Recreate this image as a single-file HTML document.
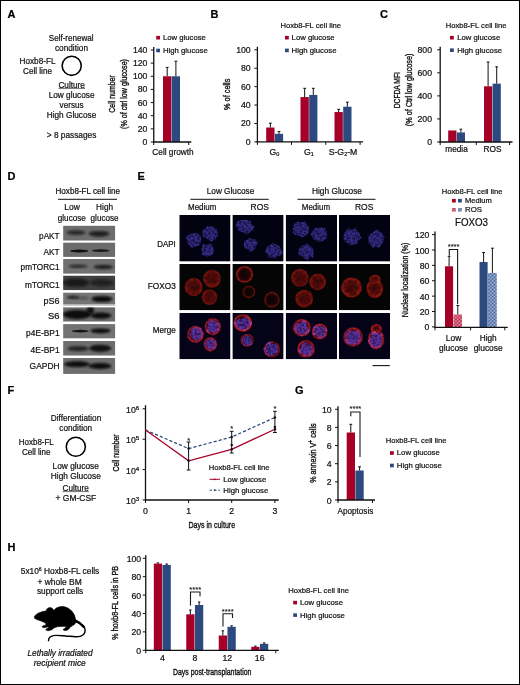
<!DOCTYPE html>
<html lang="en"><head><meta charset="utf-8"><title>Figure</title>
<style>html,body{margin:0;padding:0;background:#fff}body{width:520px;height:685px;overflow:hidden}svg{display:block}text{font-family:"Liberation Sans", Arial, Helvetica, sans-serif;fill:#111;stroke:#111;stroke-width:0.22px}</style></head><body>
<svg width="520" height="685" viewBox="0 0 520 685">
<defs>
<filter id="b1" x="-30%" y="-30%" width="160%" height="160%"><feGaussianBlur stdDeviation="0.9"/></filter>
<filter id="b2" x="-30%" y="-30%" width="160%" height="160%"><feGaussianBlur stdDeviation="1.6"/></filter>
<filter id="b05" x="-30%" y="-30%" width="160%" height="160%"><feGaussianBlur stdDeviation="0.5"/></filter>
<pattern id="hr" width="1.4" height="1.4" patternUnits="userSpaceOnUse"><rect width="1.4" height="1.4" fill="#f3b6c4"/><rect width="0.7" height="0.7" fill="#a60028"/><rect x="0.7" y="0.7" width="0.7" height="0.7" fill="#a60028"/></pattern>
<pattern id="hb" width="1.4" height="1.4" patternUnits="userSpaceOnUse"><rect width="1.4" height="1.4" fill="#bccff2"/><rect width="0.7" height="0.7" fill="#2c4a80"/><rect x="0.7" y="0.7" width="0.7" height="0.7" fill="#2c4a80"/></pattern>
</defs>
<rect x="0" y="0" width="520" height="685" fill="#fff"/>
<g id="panelA">
<text x="7.50" y="18.00" font-size="11" font-weight="bold" style="fill:#000;stroke:#000">A</text>
<text x="71.20" y="41.20" font-size="8.7" text-anchor="middle" textLength="44.80" lengthAdjust="spacingAndGlyphs">Self-renewal</text>
<text x="71.50" y="51.40" font-size="8.7" text-anchor="middle" textLength="33.00" lengthAdjust="spacingAndGlyphs">condition</text>
<text x="19.50" y="64.00" font-size="8.7" textLength="36.00" lengthAdjust="spacingAndGlyphs">Hoxb8-FL</text>
<text x="23.00" y="74.20" font-size="8.7" textLength="29.00" lengthAdjust="spacingAndGlyphs">Cell line</text>
<circle cx="71.7" cy="65.8" r="9.55" fill="none" stroke="#000" stroke-width="1.55"/>
<text x="71.70" y="87.60" font-size="8.7" text-anchor="middle" textLength="26.50" lengthAdjust="spacingAndGlyphs">Culture</text>
<line x1="58.40" y1="88.40" x2="85.00" y2="88.40" stroke="#111" stroke-width="0.6" />
<text x="71.60" y="97.60" font-size="8.7" text-anchor="middle" textLength="45.80" lengthAdjust="spacingAndGlyphs">Low glucose</text>
<text x="71.60" y="107.60" font-size="8.7" text-anchor="middle" textLength="24.00" lengthAdjust="spacingAndGlyphs">versus</text>
<text x="71.50" y="117.70" font-size="8.7" text-anchor="middle" textLength="49.50" lengthAdjust="spacingAndGlyphs">High Glucose</text>
<text x="46.80" y="138.40" font-size="8.7" textLength="49.50" lengthAdjust="spacingAndGlyphs">&gt; 8 passages</text>
<text transform="translate(115.20 94.00) rotate(-90)" font-size="9.3" text-anchor="middle" textLength="37.50" lengthAdjust="spacingAndGlyphs" style="stroke-width:0.36px">Cell number</text>
<text transform="translate(127.30 94.00) rotate(-90)" font-size="9.3" text-anchor="middle" textLength="70.00" lengthAdjust="spacingAndGlyphs" style="stroke-width:0.36px">(% of ctrl low glucose)</text>
<line x1="153.75" y1="46.90" x2="153.75" y2="142.65" stroke="#111" stroke-width="1.3" />
<line x1="150.75" y1="142.00" x2="153.75" y2="142.00" stroke="#111" stroke-width="1.0" />
<text x="147.40" y="145.00" font-size="8.7" text-anchor="end">0</text>
<line x1="150.75" y1="128.86" x2="153.75" y2="128.86" stroke="#111" stroke-width="1.0" />
<text x="147.40" y="131.86" font-size="8.7" text-anchor="end">20</text>
<line x1="150.75" y1="115.71" x2="153.75" y2="115.71" stroke="#111" stroke-width="1.0" />
<text x="147.40" y="118.71" font-size="8.7" text-anchor="end">40</text>
<line x1="150.75" y1="102.57" x2="153.75" y2="102.57" stroke="#111" stroke-width="1.0" />
<text x="147.40" y="105.57" font-size="8.7" text-anchor="end">60</text>
<line x1="150.75" y1="89.43" x2="153.75" y2="89.43" stroke="#111" stroke-width="1.0" />
<text x="147.40" y="92.43" font-size="8.7" text-anchor="end">80</text>
<line x1="150.75" y1="76.29" x2="153.75" y2="76.29" stroke="#111" stroke-width="1.0" />
<text x="147.40" y="79.29" font-size="8.7" text-anchor="end">100</text>
<line x1="150.75" y1="63.14" x2="153.75" y2="63.14" stroke="#111" stroke-width="1.0" />
<text x="147.40" y="66.14" font-size="8.7" text-anchor="end">120</text>
<line x1="150.75" y1="50.00" x2="153.75" y2="50.00" stroke="#111" stroke-width="1.0" />
<text x="147.40" y="53.00" font-size="8.7" text-anchor="end">140</text>
<rect x="163.00" y="76.29" width="8.35" height="65.71" fill="#a60028" />
<rect x="171.70" y="76.29" width="8.30" height="65.71" fill="#2c4a80" />
<line x1="167.20" y1="76.29" x2="167.20" y2="67.40" stroke="#111" stroke-width="1.0" />
<line x1="165.80" y1="67.40" x2="168.60" y2="67.40" stroke="#111" stroke-width="1.0" />
<line x1="175.90" y1="76.29" x2="175.90" y2="61.20" stroke="#111" stroke-width="1.0" />
<line x1="174.50" y1="61.20" x2="177.30" y2="61.20" stroke="#111" stroke-width="1.0" />
<text x="173.00" y="155.20" font-size="8.7" text-anchor="middle" textLength="41.30" lengthAdjust="spacingAndGlyphs">Cell growth</text>
<rect x="156.20" y="35.90" width="3.80" height="3.60" fill="#a60028" />
<text x="162.90" y="40.10" font-size="8.0" textLength="43.00" lengthAdjust="spacingAndGlyphs">Low glucose</text>
<rect x="156.20" y="48.70" width="3.80" height="3.60" fill="#2c4a80" />
<text x="162.90" y="52.80" font-size="8.0" textLength="44.90" lengthAdjust="spacingAndGlyphs">High glucose</text>
<line x1="153.10" y1="142.00" x2="191.30" y2="142.00" stroke="#111" stroke-width="1.3" />
<line x1="153.75" y1="142.00" x2="153.75" y2="145.00" stroke="#111" stroke-width="1.0" />
<line x1="188.70" y1="142.00" x2="188.70" y2="145.00" stroke="#111" stroke-width="1.0" />
</g>
<g id="panelB">
<text x="210.50" y="18.00" font-size="11" font-weight="bold" style="fill:#000;stroke:#000">B</text>
<text transform="translate(230.30 94.30) rotate(-90)" font-size="9.3" text-anchor="middle" textLength="31.30" lengthAdjust="spacingAndGlyphs" style="stroke-width:0.36px">% of cells</text>
<line x1="257.40" y1="46.70" x2="257.40" y2="142.55" stroke="#111" stroke-width="1.3" />
<line x1="254.40" y1="141.90" x2="257.40" y2="141.90" stroke="#111" stroke-width="1.0" />
<text x="250.70" y="144.90" font-size="8.7" text-anchor="end">0</text>
<line x1="254.40" y1="123.48" x2="257.40" y2="123.48" stroke="#111" stroke-width="1.0" />
<text x="250.70" y="126.48" font-size="8.7" text-anchor="end">20</text>
<line x1="254.40" y1="105.06" x2="257.40" y2="105.06" stroke="#111" stroke-width="1.0" />
<text x="250.70" y="108.06" font-size="8.7" text-anchor="end">40</text>
<line x1="254.40" y1="86.64" x2="257.40" y2="86.64" stroke="#111" stroke-width="1.0" />
<text x="250.70" y="89.64" font-size="8.7" text-anchor="end">60</text>
<line x1="254.40" y1="68.22" x2="257.40" y2="68.22" stroke="#111" stroke-width="1.0" />
<text x="250.70" y="71.22" font-size="8.7" text-anchor="end">80</text>
<line x1="254.40" y1="49.80" x2="257.40" y2="49.80" stroke="#111" stroke-width="1.0" />
<text x="250.70" y="52.80" font-size="8.7" text-anchor="end">100</text>
<rect x="266.20" y="127.53" width="8.30" height="14.37" fill="#a60028" />
<rect x="274.90" y="133.80" width="8.20" height="8.10" fill="#2c4a80" />
<line x1="270.35" y1="127.53" x2="270.35" y2="123.20" stroke="#111" stroke-width="1.0" />
<line x1="268.95" y1="123.20" x2="271.75" y2="123.20" stroke="#111" stroke-width="1.0" />
<line x1="279.00" y1="133.80" x2="279.00" y2="131.60" stroke="#111" stroke-width="1.0" />
<line x1="277.60" y1="131.60" x2="280.40" y2="131.60" stroke="#111" stroke-width="1.0" />
<rect x="300.50" y="97.05" width="8.30" height="44.85" fill="#a60028" />
<rect x="309.20" y="94.93" width="8.20" height="46.97" fill="#2c4a80" />
<line x1="304.65" y1="97.05" x2="304.65" y2="88.30" stroke="#111" stroke-width="1.0" />
<line x1="303.25" y1="88.30" x2="306.05" y2="88.30" stroke="#111" stroke-width="1.0" />
<line x1="313.30" y1="94.93" x2="313.30" y2="88.30" stroke="#111" stroke-width="1.0" />
<line x1="311.90" y1="88.30" x2="314.70" y2="88.30" stroke="#111" stroke-width="1.0" />
<rect x="334.50" y="112.06" width="8.30" height="29.84" fill="#a60028" />
<rect x="343.20" y="106.72" width="8.30" height="35.18" fill="#2c4a80" />
<line x1="338.65" y1="112.06" x2="338.65" y2="109.30" stroke="#111" stroke-width="1.0" />
<line x1="337.25" y1="109.30" x2="340.05" y2="109.30" stroke="#111" stroke-width="1.0" />
<line x1="347.35" y1="106.72" x2="347.35" y2="102.20" stroke="#111" stroke-width="1.0" />
<line x1="345.95" y1="102.20" x2="348.75" y2="102.20" stroke="#111" stroke-width="1.0" />
<text x="274.50" y="154.60" font-size="8.7" text-anchor="middle">G<tspan font-size="5.5" dy="1.6">0</tspan></text>
<text x="308.80" y="154.60" font-size="8.7" text-anchor="middle">G<tspan font-size="5.5" dy="1.6">1</tspan></text>
<text x="343.00" y="154.60" font-size="8.7" text-anchor="middle">S-G<tspan font-size="5.5" dy="1.6">2</tspan><tspan dy="-1.6">-M</tspan></text>
<text x="280.40" y="27.90" font-size="8.0" textLength="60.70" lengthAdjust="spacingAndGlyphs">Hoxb8-FL cell line</text>
<rect x="285.00" y="35.90" width="3.80" height="3.60" fill="#a60028" />
<text x="291.60" y="40.10" font-size="8.0" textLength="43.00" lengthAdjust="spacingAndGlyphs">Low glucose</text>
<rect x="285.00" y="48.60" width="3.80" height="3.60" fill="#2c4a80" />
<text x="291.60" y="52.60" font-size="8.0" textLength="44.90" lengthAdjust="spacingAndGlyphs">High glucose</text>
<line x1="256.75" y1="141.90" x2="363.10" y2="141.90" stroke="#111" stroke-width="1.3" />
<line x1="257.40" y1="141.90" x2="257.40" y2="144.90" stroke="#111" stroke-width="1.0" />
<line x1="291.50" y1="141.90" x2="291.50" y2="144.90" stroke="#111" stroke-width="1.0" />
<line x1="325.80" y1="141.90" x2="325.80" y2="144.90" stroke="#111" stroke-width="1.0" />
<line x1="360.10" y1="141.90" x2="360.10" y2="144.90" stroke="#111" stroke-width="1.0" />
</g>
<g id="panelC">
<text x="380.00" y="18.00" font-size="11" font-weight="bold" style="fill:#000;stroke:#000">C</text>
<text transform="translate(400.10 90.20) rotate(-90)" font-size="9.3" text-anchor="middle" textLength="36.20" lengthAdjust="spacingAndGlyphs" style="stroke-width:0.36px">DCFDA MFI</text>
<text transform="translate(411.70 89.90) rotate(-90)" font-size="9.3" text-anchor="middle" textLength="72.60" lengthAdjust="spacingAndGlyphs" style="stroke-width:0.36px">(% of Ctrl low glucose)</text>
<line x1="440.20" y1="46.65" x2="440.20" y2="142.65" stroke="#111" stroke-width="1.3" />
<line x1="437.20" y1="142.00" x2="440.20" y2="142.00" stroke="#111" stroke-width="1.0" />
<text x="432.00" y="145.00" font-size="8.7" text-anchor="end">0</text>
<line x1="437.20" y1="118.94" x2="440.20" y2="118.94" stroke="#111" stroke-width="1.0" />
<text x="432.00" y="121.94" font-size="8.7" text-anchor="end">200</text>
<line x1="437.20" y1="95.88" x2="440.20" y2="95.88" stroke="#111" stroke-width="1.0" />
<text x="432.00" y="98.88" font-size="8.7" text-anchor="end">400</text>
<line x1="437.20" y1="72.81" x2="440.20" y2="72.81" stroke="#111" stroke-width="1.0" />
<text x="432.00" y="75.81" font-size="8.7" text-anchor="end">600</text>
<line x1="437.20" y1="49.75" x2="440.20" y2="49.75" stroke="#111" stroke-width="1.0" />
<text x="432.00" y="52.75" font-size="8.7" text-anchor="end">800</text>
<rect x="448.20" y="130.47" width="8.25" height="11.53" fill="#a60028" />
<rect x="456.80" y="132.43" width="8.20" height="9.57" fill="#2c4a80" />
<line x1="460.90" y1="132.43" x2="460.90" y2="129.20" stroke="#111" stroke-width="1.0" />
<line x1="459.50" y1="129.20" x2="462.30" y2="129.20" stroke="#111" stroke-width="1.0" />
<rect x="484.00" y="86.30" width="8.20" height="55.70" fill="#a60028" />
<rect x="492.60" y="83.65" width="8.20" height="58.35" fill="#2c4a80" />
<line x1="488.10" y1="86.30" x2="488.10" y2="62.00" stroke="#111" stroke-width="1.0" />
<line x1="486.70" y1="62.00" x2="489.50" y2="62.00" stroke="#111" stroke-width="1.0" />
<line x1="496.70" y1="83.65" x2="496.70" y2="66.80" stroke="#111" stroke-width="1.0" />
<line x1="495.30" y1="66.80" x2="498.10" y2="66.80" stroke="#111" stroke-width="1.0" />
<text x="456.50" y="152.20" font-size="8.7" text-anchor="middle" textLength="22.50" lengthAdjust="spacingAndGlyphs">media</text>
<text x="492.50" y="152.20" font-size="8.7" text-anchor="middle" textLength="18.00" lengthAdjust="spacingAndGlyphs">ROS</text>
<text x="445.80" y="27.90" font-size="8.0" textLength="60.70" lengthAdjust="spacingAndGlyphs">Hoxb8-FL cell line</text>
<rect x="450.00" y="35.90" width="3.80" height="3.60" fill="#a60028" />
<text x="457.20" y="40.10" font-size="8.0" textLength="43.00" lengthAdjust="spacingAndGlyphs">Low glucose</text>
<rect x="450.00" y="48.40" width="3.80" height="3.60" fill="#2c4a80" />
<text x="457.20" y="52.50" font-size="8.0" textLength="44.90" lengthAdjust="spacingAndGlyphs">High glucose</text>
<line x1="439.55" y1="142.00" x2="512.50" y2="142.00" stroke="#111" stroke-width="1.3" />
<line x1="440.20" y1="142.00" x2="440.20" y2="145.00" stroke="#111" stroke-width="1.0" />
<line x1="476.30" y1="142.00" x2="476.30" y2="145.00" stroke="#111" stroke-width="1.0" />
<line x1="509.60" y1="142.00" x2="509.60" y2="145.00" stroke="#111" stroke-width="1.0" />
</g>
<g id="panelD">
<text x="7.50" y="180.00" font-size="11" font-weight="bold" style="fill:#000;stroke:#000">D</text>
<text x="55.50" y="193.60" font-size="8.7" textLength="64.50" lengthAdjust="spacingAndGlyphs">Hoxb8-FL cell line</text>
<line x1="58" y1="199.3" x2="117" y2="199.3" stroke="#000" stroke-width="0.95"/>
<text x="72.00" y="210.00" font-size="8.7" text-anchor="middle" textLength="15.50" lengthAdjust="spacingAndGlyphs">Low</text>
<text x="104.60" y="210.00" font-size="8.7" text-anchor="middle" textLength="17.00" lengthAdjust="spacingAndGlyphs">High</text>
<text x="71.80" y="220.50" font-size="8.7" text-anchor="middle" textLength="28.00" lengthAdjust="spacingAndGlyphs">glucose</text>
<text x="104.60" y="220.50" font-size="8.7" text-anchor="middle" textLength="28.00" lengthAdjust="spacingAndGlyphs">glucose</text>
<text x="59.60" y="239.20" font-size="8.7" text-anchor="end" textLength="20.50" lengthAdjust="spacingAndGlyphs">pAKT</text>
<clipPath id="cb0"><rect x="63.1" y="225.6" width="52.20" height="15.10"/></clipPath>
<g clip-path="url(#cb0)"><rect x="63.1" y="225.6" width="52.20" height="15.10" fill="#6d6d6d"/>
<ellipse cx="76" cy="232.6" rx="9.5" ry="2.3" fill="#0a0a0a" opacity="0.7" filter="url(#b1)"/>
<ellipse cx="99" cy="233.8" rx="10.5" ry="2.9" fill="#0a0a0a" opacity="0.8" filter="url(#b1)"/>
</g>
<text x="59.60" y="254.60" font-size="8.7" text-anchor="end" textLength="16.00" lengthAdjust="spacingAndGlyphs">AKT</text>
<clipPath id="cb1"><rect x="63.1" y="242.4" width="52.20" height="14.50"/></clipPath>
<g clip-path="url(#cb1)"><rect x="63.1" y="242.4" width="52.20" height="14.50" fill="#6b6b6b"/>
<ellipse cx="79.3" cy="251.0" rx="9.2" ry="1.4500000000000002" fill="#0a0a0a" opacity="0.95" filter="url(#b05)"/>
<ellipse cx="100.7" cy="250.6" rx="9.0" ry="1.35" fill="#0a0a0a" opacity="0.85" filter="url(#b05)"/>
</g>
<text x="59.60" y="270.20" font-size="8.7" text-anchor="end" textLength="39.00" lengthAdjust="spacingAndGlyphs">pmTORC1</text>
<clipPath id="cb2"><rect x="63.1" y="259.0" width="52.20" height="14.80"/></clipPath>
<g clip-path="url(#cb2)"><rect x="63.1" y="259.0" width="52.20" height="14.80" fill="#707070"/>
<ellipse cx="78" cy="266.2" rx="9.5" ry="1.7" fill="#0a0a0a" opacity="0.68" filter="url(#b1)"/>
<ellipse cx="103.5" cy="267.0" rx="10" ry="2.2" fill="#0a0a0a" opacity="0.8" filter="url(#b1)"/>
</g>
<text x="59.60" y="287.50" font-size="8.7" text-anchor="end" textLength="34.50" lengthAdjust="spacingAndGlyphs">mTORC1</text>
<clipPath id="cb3"><rect x="63.1" y="275.5" width="52.20" height="14.80"/></clipPath>
<g clip-path="url(#cb3)"><rect x="63.1" y="275.5" width="52.20" height="14.80" fill="#404040"/>
<ellipse cx="76" cy="282.8" rx="13" ry="4.0" fill="#0a0a0a" opacity="0.75" filter="url(#b1)"/>
<ellipse cx="102" cy="282.8" rx="12" ry="3.6" fill="#0a0a0a" opacity="0.6" filter="url(#b1)"/>
</g>
<text x="59.60" y="304.20" font-size="8.7" text-anchor="end" textLength="16.00" lengthAdjust="spacingAndGlyphs">pS6</text>
<clipPath id="cb4"><rect x="63.1" y="292.4" width="52.20" height="12.40"/></clipPath>
<g clip-path="url(#cb4)"><rect x="63.1" y="292.4" width="52.20" height="12.40" fill="#757575"/>
<ellipse cx="73" cy="297.4" rx="6.0" ry="1.6" fill="#0a0a0a" opacity="0.85" filter="url(#b1)"/>
<ellipse cx="83" cy="298.0" rx="6" ry="1.5" fill="#0a0a0a" opacity="0.35" filter="url(#b1)"/>
<ellipse cx="102" cy="299.0" rx="10.5" ry="3.1" fill="#0a0a0a" opacity="1.0" filter="url(#b1)"/>
</g>
<text x="59.60" y="318.80" font-size="8.7" text-anchor="end" textLength="11.50" lengthAdjust="spacingAndGlyphs">S6</text>
<clipPath id="cb5"><rect x="63.1" y="307.2" width="52.20" height="14.50"/></clipPath>
<g clip-path="url(#cb5)"><rect x="63.1" y="307.2" width="52.20" height="14.50" fill="#6b6b6b"/>
<ellipse cx="77" cy="314.6" rx="14" ry="4.6" fill="#0a0a0a" opacity="1.0" filter="url(#b1)"/>
<ellipse cx="90.3" cy="310.5" rx="3.8" ry="3.8" fill="#0a0a0a" opacity="0.95" filter="url(#b1)"/>
<ellipse cx="101" cy="315.6" rx="10.5" ry="3.1" fill="#0a0a0a" opacity="1.0" filter="url(#b1)"/>
</g>
<text x="59.60" y="336.30" font-size="8.7" text-anchor="end" textLength="33.50" lengthAdjust="spacingAndGlyphs">p4E-BP1</text>
<clipPath id="cb6"><rect x="63.1" y="324.1" width="52.20" height="14.50"/></clipPath>
<g clip-path="url(#cb6)"><rect x="63.1" y="324.1" width="52.20" height="14.50" fill="#727272"/>
<ellipse cx="80.3" cy="331.1" rx="8.6" ry="1.35" fill="#0a0a0a" opacity="0.9" filter="url(#b05)"/>
<ellipse cx="100.5" cy="330.8" rx="10" ry="2.4" fill="#0a0a0a" opacity="1.0" filter="url(#b1)"/>
</g>
<text x="59.60" y="353.00" font-size="8.7" text-anchor="end" textLength="29.00" lengthAdjust="spacingAndGlyphs">4E-BP1</text>
<clipPath id="cb7"><rect x="63.1" y="340.9" width="52.20" height="14.80"/></clipPath>
<g clip-path="url(#cb7)"><rect x="63.1" y="340.9" width="52.20" height="14.80" fill="#6e6e6e"/>
<ellipse cx="78" cy="348.6" rx="10.5" ry="2.7" fill="#0a0a0a" opacity="0.75" filter="url(#b1)"/>
<ellipse cx="100.2" cy="348.3" rx="11" ry="3.6" fill="#0a0a0a" opacity="0.95" filter="url(#b1)"/>
</g>
<text x="59.60" y="368.60" font-size="8.7" text-anchor="end" textLength="30.00" lengthAdjust="spacingAndGlyphs">GAPDH</text>
<clipPath id="cb8"><rect x="63.1" y="358.0" width="52.20" height="15.90"/></clipPath>
<g clip-path="url(#cb8)"><rect x="63.1" y="358.0" width="52.20" height="15.90" fill="#6d6d6d"/>
<ellipse cx="77" cy="364.2" rx="13" ry="2.9" fill="#0a0a0a" opacity="1.0" filter="url(#b1)"/>
<ellipse cx="100" cy="366.0" rx="11.5" ry="3.0" fill="#0a0a0a" opacity="1.0" filter="url(#b1)"/>
</g>
<rect x="63.1" y="304.8" width="52.20" height="1.3" fill="#cfcfcf"/>
</g>
<g id="panelE">
<text x="137.50" y="180.00" font-size="11" font-weight="bold" style="fill:#000;stroke:#000">E</text>
<text x="230.50" y="194.10" font-size="8.7" text-anchor="middle" textLength="47.50" lengthAdjust="spacingAndGlyphs">Low Glucose</text>
<line x1="190.4" y1="199.3" x2="268.7" y2="199.3" stroke="#000" stroke-width="0.95"/>
<text x="337.00" y="194.10" font-size="8.7" text-anchor="middle" textLength="50.00" lengthAdjust="spacingAndGlyphs">High Glucose</text>
<line x1="297.5" y1="199.3" x2="375.5" y2="199.3" stroke="#000" stroke-width="0.95"/>
<text x="188.00" y="209.60" font-size="8.7" textLength="28.30" lengthAdjust="spacingAndGlyphs">Medium</text>
<text x="250.60" y="209.60" font-size="8.7" textLength="18.30" lengthAdjust="spacingAndGlyphs">ROS</text>
<text x="301.80" y="209.60" font-size="8.7" textLength="28.30" lengthAdjust="spacingAndGlyphs">Medium</text>
<text x="355.00" y="209.60" font-size="8.7" textLength="18.30" lengthAdjust="spacingAndGlyphs">ROS</text>
<text x="175.80" y="246.80" font-size="8.7" text-anchor="end" textLength="18.50" lengthAdjust="spacingAndGlyphs">DAPI</text>
<text x="175.80" y="289.30" font-size="8.7" text-anchor="end" textLength="28.00" lengthAdjust="spacingAndGlyphs">FOXO3</text>
<text x="175.80" y="333.10" font-size="8.7" text-anchor="end" textLength="23.00" lengthAdjust="spacingAndGlyphs">Merge</text>
<radialGradient id="gf"><stop offset="0" stop-color="#6a0c0a" stop-opacity="0.85"/><stop offset="0.6" stop-color="#7c100c" stop-opacity="0.9"/><stop offset="0.9" stop-color="#a81810" stop-opacity="0.95"/><stop offset="1" stop-color="#a81810" stop-opacity="0.7"/></radialGradient>
<radialGradient id="gg"><stop offset="0" stop-color="#5a0a08" stop-opacity="0.85"/><stop offset="0.6" stop-color="#82120c" stop-opacity="0.9"/><stop offset="0.88" stop-color="#c01c12" stop-opacity="1"/><stop offset="1" stop-color="#b01810" stop-opacity="0.7"/></radialGradient>
<radialGradient id="gr"><stop offset="0" stop-color="#300404" stop-opacity="0.5"/><stop offset="0.62" stop-color="#400606" stop-opacity="0.6"/><stop offset="0.88" stop-color="#d82416" stop-opacity="1"/><stop offset="1" stop-color="#c01c12" stop-opacity="0.6"/></radialGradient>
<radialGradient id="gd"><stop offset="0" stop-color="#200303" stop-opacity="0.4"/><stop offset="0.6" stop-color="#300505" stop-opacity="0.5"/><stop offset="0.88" stop-color="#98160e" stop-opacity="0.95"/><stop offset="1" stop-color="#8a140c" stop-opacity="0.5"/></radialGradient>
<filter id="fn" x="-15%" y="-15%" width="130%" height="130%" color-interpolation-filters="sRGB"><feTurbulence type="fractalNoise" baseFrequency="0.2" numOctaves="1" seed="3" result="n0"/><feTurbulence type="fractalNoise" baseFrequency="0.45" numOctaves="2" seed="8" result="n"/><feDisplacementMap in="SourceGraphic" in2="n0" scale="5" xChannelSelector="R" yChannelSelector="G" result="d"/><feColorMatrix in="n" type="matrix" values="0 0 0 0 1  0 0 0 0 1  0 0 0 0 1  0 0 4.2 0 -1.5" result="m"/><feComposite in="d" in2="m" operator="in" result="t"/><feComposite in="d" in2="t" operator="arithmetic" k1="0" k2="0.45" k3="0.6" k4="0" result="x"/><feGaussianBlur in="x" stdDeviation="0.72"/></filter>
<filter id="fr" x="-15%" y="-15%" width="130%" height="130%" color-interpolation-filters="sRGB"><feTurbulence type="fractalNoise" baseFrequency="0.3" numOctaves="2" seed="11" result="n"/><feDisplacementMap in="SourceGraphic" in2="n" scale="1.6" xChannelSelector="R" yChannelSelector="G" result="d"/><feColorMatrix in="n" type="matrix" values="0 0 0 0 1  0 0 0 0 1  0 0 0 0 1  0 0 3.0 0 -0.9" result="m"/><feComposite in="d" in2="m" operator="in" result="t"/><feComposite in="d" in2="t" operator="arithmetic" k1="0" k2="0.6" k3="0.4" k4="0" result="x"/><feGaussianBlur in="x" stdDeviation="0.6"/></filter>
<radialGradient id="gm"><stop offset="0" stop-color="#500a10" stop-opacity="0.35"/><stop offset="0.62" stop-color="#6c101a" stop-opacity="0.5"/><stop offset="0.88" stop-color="#c01c22" stop-opacity="1"/><stop offset="1" stop-color="#b01820" stop-opacity="0.6"/></radialGradient>
<clipPath id="ct00"><rect x="179.3" y="214.9" width="51.2" height="46.7"/></clipPath>
<g clip-path="url(#ct00)"><rect x="179.3" y="214.9" width="51.2" height="46.7" fill="#030211"/>
<g filter="url(#fn)">
<ellipse cx="193.9" cy="240.0" rx="7.3999999999999995" ry="7.0" fill="#33287f"/>
<ellipse cx="210.4" cy="233.2" rx="7.3" ry="7.6" fill="#33287f"/>
<ellipse cx="207.7" cy="250.1" rx="6.3999999999999995" ry="6.7" fill="#33287f"/>
</g>
</g>
<clipPath id="ct01"><rect x="232.4" y="214.9" width="51.2" height="46.7"/></clipPath>
<g clip-path="url(#ct01)"><rect x="232.4" y="214.9" width="51.2" height="46.7" fill="#030211"/>
<g filter="url(#fn)">
<ellipse cx="244.5" cy="226.7" rx="8.9" ry="6.8999999999999995" fill="#33287f"/>
<ellipse cx="250.4" cy="244.3" rx="6.5" ry="6.5" fill="#33287f"/>
<ellipse cx="274.0" cy="251.4" rx="7.7" ry="7.3" fill="#33287f"/>
</g>
</g>
<clipPath id="ct02"><rect x="285.7" y="214.9" width="51.4" height="46.7"/></clipPath>
<g clip-path="url(#ct02)"><rect x="285.7" y="214.9" width="51.4" height="46.7" fill="#030211"/>
<g filter="url(#fn)">
<ellipse cx="301.0" cy="229.2" rx="8.3" ry="8.1" fill="#33287f"/>
<ellipse cx="319.7" cy="234.6" rx="7.7" ry="7.1" fill="#33287f"/>
<ellipse cx="306.1" cy="251.9" rx="7.7" ry="7.3" fill="#33287f"/>
</g>
</g>
<clipPath id="ct03"><rect x="339.0" y="214.9" width="51.0" height="46.7"/></clipPath>
<g clip-path="url(#ct03)"><rect x="339.0" y="214.9" width="51.0" height="46.7" fill="#030211"/>
<g filter="url(#fn)">
<ellipse cx="352.0" cy="236.8" rx="8.700000000000001" ry="8.5" fill="#33287f"/>
<ellipse cx="376.2" cy="239.0" rx="7.8999999999999995" ry="9.100000000000001" fill="#33287f"/>
</g>
</g>
<clipPath id="ct10"><rect x="179.3" y="263.9" width="51.2" height="46.4"/></clipPath>
<g clip-path="url(#ct10)"><rect x="179.3" y="263.9" width="51.2" height="46.4" fill="#060506"/>
<g filter="url(#fr)" opacity="0.8">
<ellipse cx="193.7" cy="286.9" rx="9.1" ry="9.2" fill="url(#gf)"/>
<ellipse cx="212.0" cy="278.7" rx="9.0" ry="9.1" fill="url(#gf)"/>
<ellipse cx="209.5" cy="297.1" rx="7.8" ry="7.9" fill="url(#gf)"/>
</g>
</g>
<clipPath id="ct11"><rect x="232.4" y="263.9" width="51.2" height="46.4"/></clipPath>
<g clip-path="url(#ct11)"><rect x="232.4" y="263.9" width="51.2" height="46.4" fill="#060506"/>
<g filter="url(#fr)" opacity="0.8">
<ellipse cx="244.5" cy="274.4" rx="8.8" ry="8.6" fill="url(#gr)"/>
<ellipse cx="248.8" cy="291.8" rx="6.6" ry="6.4" fill="url(#gd)"/>
<ellipse cx="271.9" cy="299.8" rx="8.0" ry="8.2" fill="url(#gd)"/>
</g>
</g>
<clipPath id="ct12"><rect x="285.7" y="263.9" width="51.4" height="46.4"/></clipPath>
<g clip-path="url(#ct12)"><rect x="285.7" y="263.9" width="51.4" height="46.4" fill="#060506"/>
<g filter="url(#fr)" opacity="0.8">
<ellipse cx="299.9" cy="277.8" rx="9.0" ry="9.0" fill="url(#gf)"/>
<ellipse cx="317.6" cy="281.9" rx="8.4" ry="8.4" fill="url(#gf)"/>
<ellipse cx="304.2" cy="298.7" rx="9.0" ry="9.0" fill="url(#gf)"/>
</g>
</g>
<clipPath id="ct13"><rect x="339.0" y="263.9" width="51.0" height="46.4"/></clipPath>
<g clip-path="url(#ct13)"><rect x="339.0" y="263.9" width="51.0" height="46.4" fill="#060506"/>
<g filter="url(#fr)" opacity="0.8">
<ellipse cx="351.6" cy="287.5" rx="10.4" ry="10.2" fill="url(#gg)"/>
<ellipse cx="374.7" cy="288.6" rx="8.4" ry="9.6" fill="url(#gg)"/>
<ellipse cx="374.9" cy="279.4" rx="5.8" ry="4.6" fill="url(#gg)"/>
</g>
</g>
<clipPath id="ct20"><rect x="179.3" y="312.9" width="51.2" height="46.4"/></clipPath>
<g clip-path="url(#ct20)"><rect x="179.3" y="312.9" width="51.2" height="46.4" fill="#040318"/>
<g filter="url(#fr)">
<ellipse cx="195.5" cy="334.3" rx="8.4" ry="8.7" fill="url(#gm)"/>
<ellipse cx="212.8" cy="326.6" rx="8.3" ry="8.8" fill="url(#gm)"/>
<ellipse cx="210.3" cy="344.2" rx="6.9" ry="7.3" fill="url(#gm)"/>
</g><g filter="url(#fn)" style="mix-blend-mode:screen">
<ellipse cx="196.2" cy="333.4" rx="6.6" ry="6.5" fill="#382a90"/>
<ellipse cx="213.0" cy="326.8" rx="6.7" ry="6.8999999999999995" fill="#382a90"/>
<ellipse cx="210.3" cy="344.2" rx="5.5" ry="5.7" fill="#382a90"/>
</g>
</g>
<clipPath id="ct21"><rect x="232.4" y="312.9" width="51.2" height="46.4"/></clipPath>
<g clip-path="url(#ct21)"><rect x="232.4" y="312.9" width="51.2" height="46.4" fill="#040318"/>
<g filter="url(#fr)">
<ellipse cx="242.8" cy="322.9" rx="9.4" ry="8.9" fill="url(#gr)"/>
<ellipse cx="247.1" cy="340.2" rx="6.8" ry="6.8" fill="url(#gd)"/>
<ellipse cx="271.9" cy="349.4" rx="8.4" ry="8.4" fill="url(#gd)"/>
</g><g filter="url(#fn)" style="mix-blend-mode:screen">
<ellipse cx="243.0" cy="323.9" rx="8.1" ry="6.5" fill="#382a90"/>
<ellipse cx="247.1" cy="340.4" rx="5.7" ry="5.7" fill="#382a90"/>
<ellipse cx="271.2" cy="349.2" rx="6.7" ry="6.7" fill="#382a90"/>
</g>
</g>
<clipPath id="ct22"><rect x="285.7" y="312.9" width="51.4" height="46.4"/></clipPath>
<g clip-path="url(#ct22)"><rect x="285.7" y="312.9" width="51.4" height="46.4" fill="#040318"/>
<g filter="url(#fr)">
<ellipse cx="301.8" cy="327.7" rx="9.0" ry="9.0" fill="url(#gm)"/>
<ellipse cx="319.7" cy="331.5" rx="8.0" ry="8.0" fill="url(#gm)"/>
<ellipse cx="306.1" cy="348.8" rx="9.0" ry="9.0" fill="url(#gm)"/>
</g><g filter="url(#fn)" style="mix-blend-mode:screen">
<ellipse cx="301.8" cy="328.1" rx="7.3" ry="6.8999999999999995" fill="#382a90"/>
<ellipse cx="319.7" cy="331.5" rx="6.5" ry="6.3" fill="#382a90"/>
<ellipse cx="306.1" cy="349.6" rx="7.1" ry="6.5" fill="#382a90"/>
</g>
</g>
<clipPath id="ct23"><rect x="339.0" y="312.9" width="51.0" height="46.4"/></clipPath>
<g clip-path="url(#ct23)"><rect x="339.0" y="312.9" width="51.0" height="46.4" fill="#040318"/>
<g filter="url(#fr)">
<ellipse cx="353.1" cy="336.9" rx="10.0" ry="9.8" fill="url(#gm)"/>
<ellipse cx="376.1" cy="339.4" rx="8.4" ry="10.0" fill="url(#gm)"/>
<ellipse cx="376.3" cy="328.8" rx="5.6" ry="4.8" fill="url(#gg)"/>
</g><g filter="url(#fn)" style="mix-blend-mode:screen">
<ellipse cx="353.1" cy="337.5" rx="7.7" ry="7.3" fill="#382a90"/>
<ellipse cx="376.1" cy="340.6" rx="6.8999999999999995" ry="8.3" fill="#382a90"/>
</g>
</g>
<line x1="372.6" y1="365.6" x2="389.8" y2="365.6" stroke="#111" stroke-width="1.1"/>
</g>
<g id="panelEchart">
<text x="441.80" y="193.85" font-size="8.0" textLength="60.70" lengthAdjust="spacingAndGlyphs">Hoxb8-FL cell line</text>
<rect x="452.00" y="198.90" width="3.80" height="3.60" fill="#a60028" />
<rect x="458.00" y="198.90" width="3.80" height="3.60" fill="#2c4a80" />
<text x="465.00" y="203.45" font-size="8.0" textLength="26.80" lengthAdjust="spacingAndGlyphs">Medium</text>
<rect x="452.00" y="208.00" width="3.80" height="3.60" fill="url(#hr)" />
<rect x="458.00" y="208.00" width="3.80" height="3.60" fill="url(#hb)" />
<text x="465.00" y="212.45" font-size="8.0" textLength="17.00" lengthAdjust="spacingAndGlyphs">ROS</text>
<text x="471.50" y="226.15" font-size="10.4" text-anchor="middle" textLength="33.00" lengthAdjust="spacingAndGlyphs">FOXO3</text>
<text transform="translate(407.60 279.90) rotate(-90)" font-size="9.3" text-anchor="middle" textLength="74.60" lengthAdjust="spacingAndGlyphs" style="stroke-width:0.36px">Nuclear localization (%)</text>
<line x1="435.00" y1="231.50" x2="435.00" y2="327.55" stroke="#111" stroke-width="1.3" />
<line x1="432.00" y1="326.90" x2="435.00" y2="326.90" stroke="#111" stroke-width="1.0" />
<text x="429.40" y="330.45" font-size="8.7" text-anchor="end">0</text>
<line x1="432.00" y1="311.52" x2="435.00" y2="311.52" stroke="#111" stroke-width="1.0" />
<text x="429.40" y="315.07" font-size="8.7" text-anchor="end">20</text>
<line x1="432.00" y1="296.13" x2="435.00" y2="296.13" stroke="#111" stroke-width="1.0" />
<text x="429.40" y="299.68" font-size="8.7" text-anchor="end">40</text>
<line x1="432.00" y1="280.75" x2="435.00" y2="280.75" stroke="#111" stroke-width="1.0" />
<text x="429.40" y="284.30" font-size="8.7" text-anchor="end">60</text>
<line x1="432.00" y1="265.37" x2="435.00" y2="265.37" stroke="#111" stroke-width="1.0" />
<text x="429.40" y="268.92" font-size="8.7" text-anchor="end">80</text>
<line x1="432.00" y1="249.98" x2="435.00" y2="249.98" stroke="#111" stroke-width="1.0" />
<text x="429.40" y="253.53" font-size="8.7" text-anchor="end">100</text>
<line x1="432.00" y1="234.60" x2="435.00" y2="234.60" stroke="#111" stroke-width="1.0" />
<text x="429.40" y="238.15" font-size="8.7" text-anchor="end">120</text>
<rect x="445.00" y="266.30" width="8.10" height="61.00" fill="#a60028" />
<rect x="453.50" y="314.50" width="8.50" height="12.80" fill="url(#hr)" />
<line x1="449.10" y1="266.30" x2="449.10" y2="256.30" stroke="#111" stroke-width="1.0" />
<line x1="447.70" y1="256.30" x2="450.50" y2="256.30" stroke="#111" stroke-width="1.0" />
<line x1="457.80" y1="314.50" x2="457.80" y2="305.50" stroke="#111" stroke-width="1.0" />
<line x1="456.40" y1="305.50" x2="459.20" y2="305.50" stroke="#111" stroke-width="1.0" />
<rect x="479.50" y="262.00" width="8.10" height="65.30" fill="#2c4a80" />
<rect x="488.00" y="273.00" width="8.80" height="54.30" fill="url(#hb)" />
<line x1="483.60" y1="262.00" x2="483.60" y2="252.50" stroke="#111" stroke-width="1.0" />
<line x1="482.20" y1="252.50" x2="485.00" y2="252.50" stroke="#111" stroke-width="1.0" />
<line x1="492.40" y1="273.00" x2="492.40" y2="248.20" stroke="#111" stroke-width="1.0" />
<line x1="491.00" y1="248.20" x2="493.80" y2="248.20" stroke="#111" stroke-width="1.0" />
<path d="M449.30 255.60V249.50H457.60V304.30" fill="none" stroke="#1a1a1a" stroke-width="1.1"/>
<text x="453.60" y="249.00" font-size="7.5" text-anchor="middle" textLength="11.80" lengthAdjust="spacingAndGlyphs" style="stroke-width:0.1px">****</text>
<text x="453.50" y="341.05" font-size="8.7" text-anchor="middle" textLength="15.50" lengthAdjust="spacingAndGlyphs">Low</text>
<text x="453.50" y="351.15" font-size="8.7" text-anchor="middle" textLength="29.00" lengthAdjust="spacingAndGlyphs">glucose</text>
<text x="488.20" y="341.05" font-size="8.7" text-anchor="middle" textLength="17.00" lengthAdjust="spacingAndGlyphs">High</text>
<text x="488.20" y="351.15" font-size="8.7" text-anchor="middle" textLength="29.00" lengthAdjust="spacingAndGlyphs">glucose</text>
<line x1="434.35" y1="327.30" x2="507.70" y2="327.30" stroke="#111" stroke-width="1.3" />
<line x1="435.00" y1="327.30" x2="435.00" y2="330.30" stroke="#111" stroke-width="1.0" />
<line x1="470.60" y1="327.30" x2="470.60" y2="330.30" stroke="#111" stroke-width="1.0" />
<line x1="504.80" y1="327.30" x2="504.80" y2="330.30" stroke="#111" stroke-width="1.0" />
</g>
<g id="panelF">
<text x="7.50" y="394.35" font-size="11" font-weight="bold" style="fill:#000;stroke:#000">F</text>
<text x="76.00" y="421.35" font-size="8.7" text-anchor="middle" textLength="50.50" lengthAdjust="spacingAndGlyphs">Differentiation</text>
<text x="75.70" y="431.35" font-size="8.7" text-anchor="middle" textLength="32.80" lengthAdjust="spacingAndGlyphs">condition</text>
<text x="18.80" y="444.85" font-size="8.7" textLength="35.00" lengthAdjust="spacingAndGlyphs">Hoxb8-FL</text>
<text x="22.00" y="455.15" font-size="8.7" textLength="28.50" lengthAdjust="spacingAndGlyphs">Cell line</text>
<circle cx="75.8" cy="446.7" r="9.55" fill="none" stroke="#000" stroke-width="1.55"/>
<text x="75.70" y="468.65" font-size="8.7" text-anchor="middle" textLength="46.20" lengthAdjust="spacingAndGlyphs">Low glucose</text>
<text x="75.80" y="478.65" font-size="8.7" text-anchor="middle" textLength="50.00" lengthAdjust="spacingAndGlyphs">High Glucose</text>
<text x="75.70" y="491.35" font-size="8.7" text-anchor="middle" textLength="26.30" lengthAdjust="spacingAndGlyphs">Culture</text>
<line x1="62.50" y1="491.60" x2="88.90" y2="491.60" stroke="#111" stroke-width="0.6" />
<text x="55.50" y="501.35" font-size="8.7" textLength="40.80" lengthAdjust="spacingAndGlyphs">+ GM-CSF</text>
<text transform="translate(118.90 453.00) rotate(-90)" font-size="9.3" text-anchor="middle" textLength="37.20" lengthAdjust="spacingAndGlyphs" style="stroke-width:0.36px">Cell number</text>
<line x1="145.50" y1="405.20" x2="145.50" y2="500.65" stroke="#111" stroke-width="1.3" />
<line x1="142.60" y1="500.00" x2="145.50" y2="500.00" stroke="#111" stroke-width="1.0" />
<text x="139.20" y="504.20" font-size="8.7" text-anchor="end">10<tspan font-size="6.2" dy="-3">3</tspan></text>
<line x1="142.60" y1="469.60" x2="145.50" y2="469.60" stroke="#111" stroke-width="1.0" />
<text x="139.20" y="473.80" font-size="8.7" text-anchor="end">10<tspan font-size="6.2" dy="-3">4</tspan></text>
<line x1="142.60" y1="439.20" x2="145.50" y2="439.20" stroke="#111" stroke-width="1.0" />
<text x="139.20" y="443.40" font-size="8.7" text-anchor="end">10<tspan font-size="6.2" dy="-3">5</tspan></text>
<line x1="142.60" y1="408.80" x2="145.50" y2="408.80" stroke="#111" stroke-width="1.0" />
<text x="139.20" y="413.00" font-size="8.7" text-anchor="end">10<tspan font-size="6.2" dy="-3">6</tspan></text>
<line x1="144.85" y1="500.00" x2="278.80" y2="500.00" stroke="#111" stroke-width="1.3" />
<line x1="145.50" y1="500.00" x2="145.50" y2="503.00" stroke="#111" stroke-width="1.0" />
<line x1="188.60" y1="500.00" x2="188.60" y2="503.00" stroke="#111" stroke-width="1.0" />
<line x1="231.70" y1="500.00" x2="231.70" y2="503.00" stroke="#111" stroke-width="1.0" />
<line x1="274.90" y1="500.00" x2="274.90" y2="503.00" stroke="#111" stroke-width="1.0" />
<text x="145.50" y="513.55" font-size="8.7" text-anchor="middle">0</text>
<text x="188.60" y="513.55" font-size="8.7" text-anchor="middle">1</text>
<text x="231.70" y="513.55" font-size="8.7" text-anchor="middle">2</text>
<text x="274.90" y="513.55" font-size="8.7" text-anchor="middle">3</text>
<text x="211.80" y="528.15" font-size="9.6" text-anchor="middle" textLength="46.50" lengthAdjust="spacingAndGlyphs" style="stroke-width:0.36px">Days in culture</text>
<polyline fill="none" stroke="#2c4a80" stroke-width="1.25" stroke-dasharray="3.2 2" points="145.5,430.0 188.6,448.6 231.7,437.0 274.9,417.5"/>
<polyline fill="none" stroke="#a60028" stroke-width="1.25" points="145.5,430.0 188.6,460.8 231.7,449.3 274.9,429.3"/>
<line x1="188.60" y1="442.00" x2="188.60" y2="470.00" stroke="#111" stroke-width="1.0" />
<line x1="186.70" y1="442.00" x2="190.50" y2="442.00" stroke="#111" stroke-width="1.0" />
<line x1="186.70" y1="470.00" x2="190.50" y2="470.00" stroke="#111" stroke-width="1.0" />
<text x="188.60" y="442.70" font-size="7.5" text-anchor="middle" style="stroke-width:0.1px">*</text>
<line x1="231.70" y1="431.30" x2="231.70" y2="453.00" stroke="#111" stroke-width="1.0" />
<line x1="229.80" y1="431.30" x2="233.60" y2="431.30" stroke="#111" stroke-width="1.0" />
<line x1="229.80" y1="453.00" x2="233.60" y2="453.00" stroke="#111" stroke-width="1.0" />
<text x="231.70" y="430.70" font-size="7.5" text-anchor="middle" style="stroke-width:0.1px">*</text>
<line x1="274.90" y1="411.30" x2="274.90" y2="432.50" stroke="#111" stroke-width="1.0" />
<line x1="273.00" y1="411.30" x2="276.80" y2="411.30" stroke="#111" stroke-width="1.0" />
<line x1="273.00" y1="432.50" x2="276.80" y2="432.50" stroke="#111" stroke-width="1.0" />
<text x="274.90" y="411.10" font-size="7.5" text-anchor="middle" style="stroke-width:0.1px">*</text>
<circle cx="188.6" cy="448.6" r="1.25" fill="#111"/>
<circle cx="188.6" cy="460.8" r="1.25" fill="#111"/>
<circle cx="231.7" cy="437" r="1.25" fill="#111"/>
<circle cx="231.7" cy="445" r="1.25" fill="#111"/>
<circle cx="231.7" cy="449.3" r="1.25" fill="#111"/>
<circle cx="274.9" cy="417.5" r="1.25" fill="#111"/>
<circle cx="274.9" cy="427" r="1.25" fill="#111"/>
<circle cx="274.9" cy="429.3" r="1.25" fill="#111"/>
<text x="208.80" y="469.85" font-size="8.0" textLength="60.70" lengthAdjust="spacingAndGlyphs">Hoxb8-FL cell line</text>
<line x1="209.50" y1="479.30" x2="220.00" y2="479.30" stroke="#a60028" stroke-width="1.0" />
<circle cx="214.7" cy="479.3" r="0.9" fill="#a60028"/>
<text x="223.30" y="481.85" font-size="8.0" textLength="43.00" lengthAdjust="spacingAndGlyphs">Low glucose</text>
<line x1="209.50" y1="490.20" x2="220.00" y2="490.20" stroke="#2c4a80" stroke-width="1.0" stroke-dasharray="2.6 1.8"/>
<circle cx="214.7" cy="490.2" r="0.9" fill="#2c4a80"/>
<text x="223.30" y="492.85" font-size="8.0" textLength="44.90" lengthAdjust="spacingAndGlyphs">High glucose</text>
</g>
<g id="panelG">
<text x="295.00" y="394.15" font-size="11" font-weight="bold" style="fill:#000;stroke:#000">G</text>
<text transform="translate(316.20 453.10) rotate(-90) scale(0.77 1)" font-size="9.3" text-anchor="middle" style="stroke-width:0.36px">% annexin V<tspan font-size="6.6" dy="-3.2">+</tspan><tspan dy="3.2"> cells</tspan></text>
<line x1="338.00" y1="406.15" x2="338.00" y2="500.65" stroke="#111" stroke-width="1.3" />
<line x1="335.00" y1="500.00" x2="338.00" y2="500.00" stroke="#111" stroke-width="1.0" />
<text x="331.60" y="503.55" font-size="8.7" text-anchor="end">0</text>
<line x1="335.00" y1="481.85" x2="338.00" y2="481.85" stroke="#111" stroke-width="1.0" />
<text x="331.60" y="485.40" font-size="8.7" text-anchor="end">2</text>
<line x1="335.00" y1="463.70" x2="338.00" y2="463.70" stroke="#111" stroke-width="1.0" />
<text x="331.60" y="467.25" font-size="8.7" text-anchor="end">4</text>
<line x1="335.00" y1="445.55" x2="338.00" y2="445.55" stroke="#111" stroke-width="1.0" />
<text x="331.60" y="449.10" font-size="8.7" text-anchor="end">6</text>
<line x1="335.00" y1="427.40" x2="338.00" y2="427.40" stroke="#111" stroke-width="1.0" />
<text x="331.60" y="430.95" font-size="8.7" text-anchor="end">8</text>
<line x1="335.00" y1="409.25" x2="338.00" y2="409.25" stroke="#111" stroke-width="1.0" />
<text x="331.60" y="412.80" font-size="8.7" text-anchor="end">10</text>
<rect x="346.70" y="432.50" width="8.30" height="67.50" fill="#a60028" />
<rect x="355.40" y="470.50" width="8.30" height="29.50" fill="#2c4a80" />
<line x1="350.80" y1="432.50" x2="350.80" y2="424.30" stroke="#111" stroke-width="1.0" />
<line x1="349.40" y1="424.30" x2="352.20" y2="424.30" stroke="#111" stroke-width="1.0" />
<line x1="359.60" y1="470.50" x2="359.60" y2="466.80" stroke="#111" stroke-width="1.0" />
<line x1="358.20" y1="466.80" x2="361.00" y2="466.80" stroke="#111" stroke-width="1.0" />
<path d="M350.80 416.30V412.00H360.00V457.00" fill="none" stroke="#1a1a1a" stroke-width="1.1"/>
<text x="355.40" y="411.40" font-size="7.5" text-anchor="middle" textLength="11.80" lengthAdjust="spacingAndGlyphs" style="stroke-width:0.1px">****</text>
<text x="355.40" y="513.65" font-size="8.7" text-anchor="middle" textLength="35.80" lengthAdjust="spacingAndGlyphs">Apoptosis</text>
<text x="385.80" y="443.05" font-size="8.0" textLength="60.70" lengthAdjust="spacingAndGlyphs">Hoxb8-FL cell line</text>
<rect x="390.00" y="451.20" width="3.80" height="3.60" fill="#a60028" />
<text x="396.80" y="455.25" font-size="8.0" textLength="43.00" lengthAdjust="spacingAndGlyphs">Low glucose</text>
<rect x="390.00" y="463.70" width="3.80" height="3.60" fill="#2c4a80" />
<text x="396.80" y="468.15" font-size="8.0" textLength="44.90" lengthAdjust="spacingAndGlyphs">High glucose</text>
<line x1="337.35" y1="500.00" x2="375.00" y2="500.00" stroke="#111" stroke-width="1.3" />
<line x1="338.00" y1="500.00" x2="338.00" y2="503.00" stroke="#111" stroke-width="1.0" />
<line x1="372.50" y1="500.00" x2="372.50" y2="503.00" stroke="#111" stroke-width="1.0" />
</g>
<g id="panelH">
<text x="7.50" y="550.95" font-size="11" font-weight="bold" style="fill:#000;stroke:#000">H</text>
<text x="20.80" y="574.35" font-size="8.7" textLength="78.50" lengthAdjust="spacingAndGlyphs">5x10<tspan font-size="5.4" dy="-3">6</tspan><tspan dy="3"> Hoxb8-FL cells</tspan></text>
<text x="59.60" y="584.85" font-size="8.7" text-anchor="middle" textLength="44.20" lengthAdjust="spacingAndGlyphs">+ whole BM</text>
<text x="60.10" y="594.45" font-size="8.7" text-anchor="middle" textLength="46.20" lengthAdjust="spacingAndGlyphs">support cells</text>
<g id="mouse"><polygon points="34.15,616.82 35.77,614.80 38.46,613.06 42.50,611.57 46.27,610.77 46.80,608.88 48.55,607.67 50.84,607.54 52.59,608.61 53.53,610.23 56.63,607.81 60.26,606.59 64.03,606.59 68.07,608.08 71.84,611.04 74.53,615.07 75.87,620.19 75.07,623.96 72.38,625.84 70.09,627.19 68.88,629.07 66.72,630.42 64.30,630.55 62.95,629.61 64.84,628.13 66.72,626.51 62.01,626.38 57.30,626.78 53.94,627.99 51.65,629.88 48.15,630.82 45.73,630.01 46.53,628.67 49.23,627.86 47.21,627.05 44.52,627.73 41.82,627.05 43.03,625.71 46.00,624.90 45.46,623.01 41.42,621.13 37.38,619.78 34.69,618.57" fill="#000" stroke="#000" stroke-width="0.5" stroke-linejoin="round"/><path d="M75.07 621.53C75.70 621.76 77.49 622.21 78.84 622.88C80.18 623.55 82.11 624.45 83.14 625.57C84.17 626.69 84.85 628.26 85.03 629.61C85.21 630.96 84.91 632.57 84.22 633.65C83.52 634.72 82.31 635.55 80.85 636.07C79.40 636.59 78.05 636.77 75.47 636.74C72.89 636.72 68.63 636.16 65.38 635.94C62.12 635.71 58.31 635.33 55.96 635.40C53.60 635.46 52.41 635.85 51.24 636.34C50.08 636.83 49.41 637.64 48.96 638.36C48.51 639.08 48.62 640.26 48.55 640.65" fill="none" stroke="#000" stroke-width="1.45" stroke-linecap="round"/><path d="M74.53 620.19Q79.51 622.21 83.68 626.92" fill="none" stroke="#000" stroke-width="2.3" stroke-linecap="round"/></g>
<text x="60.00" y="655.55" font-size="8.7" text-anchor="middle" font-style="italic" textLength="65.00" lengthAdjust="spacingAndGlyphs">Lethally irradiated</text>
<text x="59.80" y="666.05" font-size="8.7" text-anchor="middle" font-style="italic" textLength="52.00" lengthAdjust="spacingAndGlyphs">recipient mice</text>
<text transform="translate(118.00 602.80) rotate(-90)" font-size="9.3" text-anchor="middle" textLength="73.70" lengthAdjust="spacingAndGlyphs" style="stroke-width:0.36px">% hoxb8-FL cells in PB</text>
<line x1="145.75" y1="555.20" x2="145.75" y2="650.95" stroke="#111" stroke-width="1.3" />
<line x1="142.75" y1="650.30" x2="145.75" y2="650.30" stroke="#111" stroke-width="1.0" />
<text x="141.20" y="653.85" font-size="8.7" text-anchor="end">0</text>
<line x1="142.75" y1="631.90" x2="145.75" y2="631.90" stroke="#111" stroke-width="1.0" />
<text x="141.20" y="635.45" font-size="8.7" text-anchor="end">20</text>
<line x1="142.75" y1="613.50" x2="145.75" y2="613.50" stroke="#111" stroke-width="1.0" />
<text x="141.20" y="617.05" font-size="8.7" text-anchor="end">40</text>
<line x1="142.75" y1="595.10" x2="145.75" y2="595.10" stroke="#111" stroke-width="1.0" />
<text x="141.20" y="598.65" font-size="8.7" text-anchor="end">60</text>
<line x1="142.75" y1="576.70" x2="145.75" y2="576.70" stroke="#111" stroke-width="1.0" />
<text x="141.20" y="580.25" font-size="8.7" text-anchor="end">80</text>
<line x1="142.75" y1="558.30" x2="145.75" y2="558.30" stroke="#111" stroke-width="1.0" />
<text x="141.20" y="561.85" font-size="8.7" text-anchor="end">100</text>
<rect x="153.80" y="563.60" width="8.25" height="86.70" fill="#a60028" />
<rect x="162.50" y="564.90" width="8.30" height="85.40" fill="#2c4a80" />
<line x1="157.90" y1="563.60" x2="157.90" y2="562.90" stroke="#111" stroke-width="1.0" />
<line x1="156.70" y1="562.90" x2="159.10" y2="562.90" stroke="#111" stroke-width="1.0" />
<line x1="166.70" y1="564.90" x2="166.70" y2="564.00" stroke="#111" stroke-width="1.0" />
<line x1="165.50" y1="564.00" x2="167.90" y2="564.00" stroke="#111" stroke-width="1.0" />
<rect x="186.25" y="614.30" width="8.25" height="36.00" fill="#a60028" />
<rect x="194.95" y="605.00" width="8.30" height="45.30" fill="#2c4a80" />
<line x1="190.35" y1="614.30" x2="190.35" y2="610.00" stroke="#111" stroke-width="1.0" />
<line x1="189.15" y1="610.00" x2="191.55" y2="610.00" stroke="#111" stroke-width="1.0" />
<line x1="199.15" y1="605.00" x2="199.15" y2="602.00" stroke="#111" stroke-width="1.0" />
<line x1="197.95" y1="602.00" x2="200.35" y2="602.00" stroke="#111" stroke-width="1.0" />
<rect x="218.75" y="635.50" width="8.25" height="14.80" fill="#a60028" />
<rect x="227.45" y="626.80" width="8.30" height="23.50" fill="#2c4a80" />
<line x1="222.85" y1="635.50" x2="222.85" y2="630.80" stroke="#111" stroke-width="1.0" />
<line x1="221.65" y1="630.80" x2="224.05" y2="630.80" stroke="#111" stroke-width="1.0" />
<line x1="231.65" y1="626.80" x2="231.65" y2="625.80" stroke="#111" stroke-width="1.0" />
<line x1="230.45" y1="625.80" x2="232.85" y2="625.80" stroke="#111" stroke-width="1.0" />
<rect x="251.25" y="646.80" width="8.25" height="3.50" fill="#a60028" />
<rect x="259.95" y="643.80" width="8.30" height="6.50" fill="#2c4a80" />
<line x1="255.35" y1="646.80" x2="255.35" y2="646.10" stroke="#111" stroke-width="1.0" />
<line x1="254.15" y1="646.10" x2="256.55" y2="646.10" stroke="#111" stroke-width="1.0" />
<line x1="264.15" y1="643.80" x2="264.15" y2="642.90" stroke="#111" stroke-width="1.0" />
<line x1="262.95" y1="642.90" x2="265.35" y2="642.90" stroke="#111" stroke-width="1.0" />
<path d="M190.50 605.40V592.00H200.00V596.30" fill="none" stroke="#1a1a1a" stroke-width="1.1"/>
<text x="195.20" y="592.00" font-size="7.5" text-anchor="middle" textLength="11.80" lengthAdjust="spacingAndGlyphs" style="stroke-width:0.1px">****</text>
<path d="M223.00 626.60V613.80H232.50V618.00" fill="none" stroke="#1a1a1a" stroke-width="1.1"/>
<text x="227.70" y="613.80" font-size="7.5" text-anchor="middle" textLength="11.80" lengthAdjust="spacingAndGlyphs" style="stroke-width:0.1px">****</text>
<text x="162.40" y="660.95" font-size="8.7" text-anchor="middle">4</text>
<text x="195.00" y="660.95" font-size="8.7" text-anchor="middle">8</text>
<text x="227.30" y="660.95" font-size="8.7" text-anchor="middle">12</text>
<text x="259.70" y="660.95" font-size="8.7" text-anchor="middle">16</text>
<text x="212.20" y="674.85" font-size="9.6" text-anchor="middle" textLength="78.30" lengthAdjust="spacingAndGlyphs" style="stroke-width:0.36px">Days post-transplantation</text>
<text x="288.30" y="592.65" font-size="8.0" textLength="60.70" lengthAdjust="spacingAndGlyphs">Hoxb8-FL cell line</text>
<rect x="293.20" y="600.80" width="3.80" height="3.60" fill="#a60028" />
<text x="300.00" y="605.15" font-size="8.0" textLength="43.00" lengthAdjust="spacingAndGlyphs">Low glucose</text>
<rect x="293.20" y="613.30" width="3.80" height="3.60" fill="#2c4a80" />
<text x="300.00" y="617.65" font-size="8.0" textLength="44.90" lengthAdjust="spacingAndGlyphs">High glucose</text>
<line x1="145.10" y1="650.30" x2="278.80" y2="650.30" stroke="#111" stroke-width="1.3" />
<line x1="145.75" y1="650.30" x2="145.75" y2="653.30" stroke="#111" stroke-width="1.0" />
<line x1="275.80" y1="650.30" x2="275.80" y2="653.30" stroke="#111" stroke-width="1.0" />
</g>
<rect x="0.5" y="0.5" width="519" height="684" fill="none" stroke="#000" stroke-width="1"/>
</svg></body></html>
